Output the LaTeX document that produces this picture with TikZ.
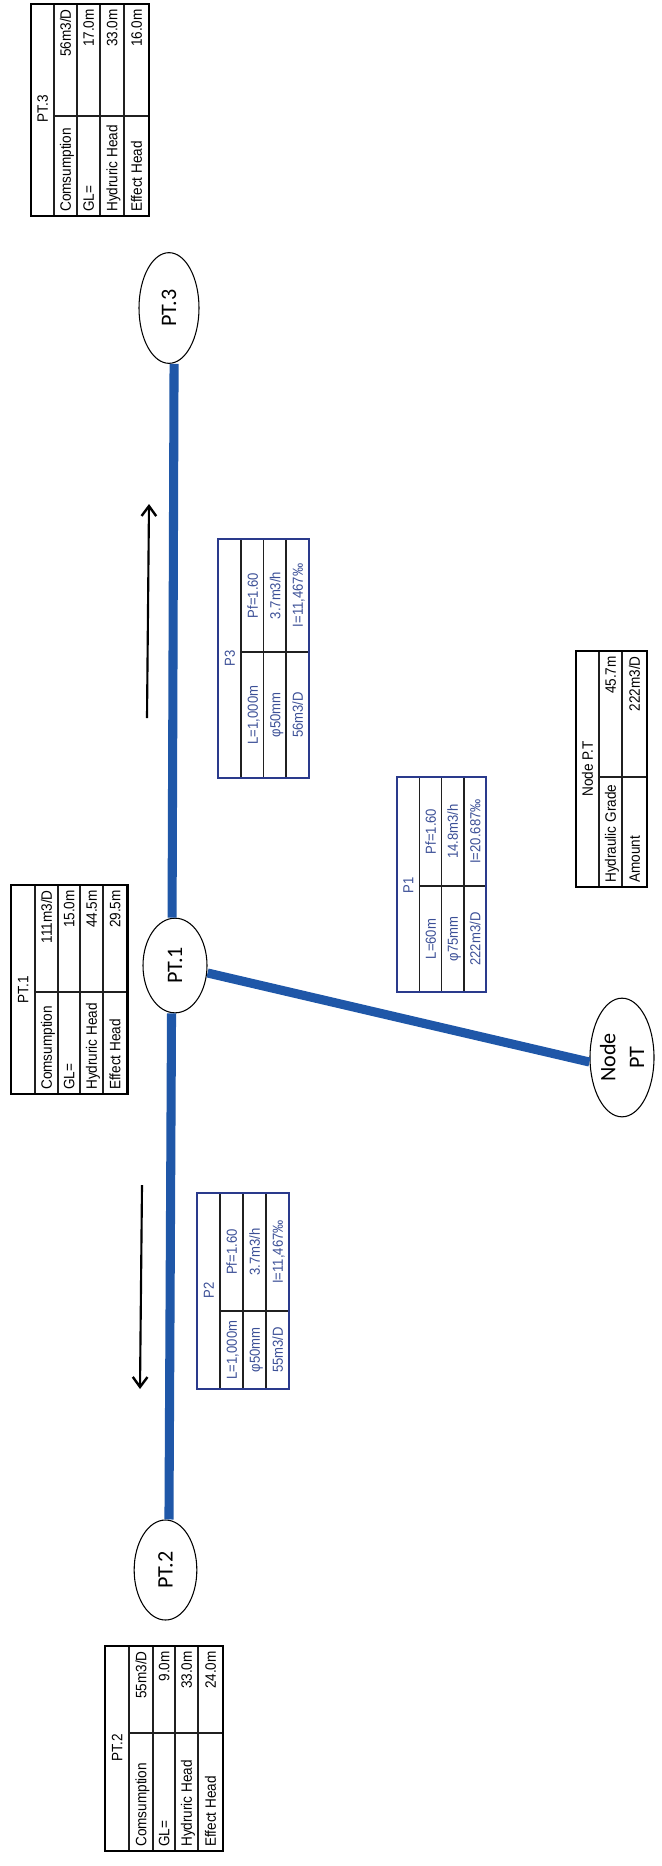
\documentclass[tikz,border=0pt]{standalone}
\usepackage{fontspec}
\usepackage{graphicx}
\usetikzlibrary{shapes.geometric,arrows.meta}
\newfontfamily\tabfont[FakeStretch=0.9]{Liberation Sans}
\newfontfamily\elfont{Carlito}
\definecolor{pipeblue}{HTML}{1F57A8}
\definecolor{tabnavy}{HTML}{2A3A8C}
\definecolor{bluetext}{HTML}{3B4F96}
\definecolor{gridgrey}{HTML}{202020}
\tikzset{
  pipe/.style={draw=pipeblue,line width=6.8pt},
  flow/.style={draw=black,line width=1.6pt,-{Straight Barb[length=7.5pt,width=11pt,line width=1.8pt]}},
  junction/.style={ellipse,draw=black,fill=white,line width=0.8pt,inner sep=0pt,rotate=90,font=\elfont\fontsize{16.6}{21.5}\selectfont,align=center},
  blackframe/.style={draw=black,line width=2.2pt},
  blueframe/.style={draw=tabnavy,line width=1pt},
  gridline/.style={draw=gridgrey,line width=0.8pt},
  cellb/.style={rotate=90,inner sep=0pt,text=black,text height=8pt,text depth=0pt,font=\tabfont\fontsize{11.3}{13}\selectfont},
  cellt/.style={rotate=90,inner sep=0pt,text=bluetext,text height=8pt,text depth=0pt,font=\tabfont\fontsize{10.9}{13}\selectfont},
}
% style, xleft, xright, inner columns, ytop, ybottom, ysplit, first column right edge
\newcommand{\tablegrid}[8]{%
  \foreach \colx in {#4} {\draw[gridline] (\colx,#5) -- (\colx,#6);}
  \draw[gridline] (#8,#7) -- (#3,#7);
  \draw[#1] (#2,#5) rectangle (#3,#6);
}
% name, x, ybottom, ytop, left text, right text
\newcommand{\blackrow}[6]{%
  \node[cellb,anchor=west] (#1l) at (#2,#3-4) {#5};
  \node[cellb,anchor=east] (#1r) at (#2,#4+5) {#6};
}
% name, x, ycentre-left, ycentre-right, left, right
\newcommand{\bluerow}[6]{%
  \node[cellt] (#1l) at (#2,#3) {#5};
  \node[cellt] (#1r) at (#2,#4) {#6};
}
\begin{document}
\begin{tikzpicture}[x=0.75pt,y=-0.75pt]
\useasboundingbox (0,0) rectangle (661,1866);

% junctions
\node[junction,minimum width=83pt,minimum height=45pt] (pt3) at (169,308) {PT.3};
\node[junction,minimum width=71pt,minimum height=48pt] (pt1) at (175,965.5) {PT.1};
\node[junction,minimum width=75pt,minimum height=47pt] (pt2) at (165.5,1570) {PT.2};
\node[junction,minimum width=89pt,minimum height=48pt] (nodept) at (622,1057.5) {Node\\PT};

% pipes
\draw[pipe] ([xshift=3.8pt]pt3.west) -- ([xshift=-2.2pt]pt1.east);
\draw[pipe] ([xshift=-2.6pt]pt1.west) -- ([xshift=2.6pt]pt2.east);
\draw[pipe] ([yshift=-5.6pt]pt1.south) -- ([yshift=-3.4pt]nodept.north);

% flow arrows
\coordinate (a1s) at (147,718);
\coordinate (a1e) at (149,504);
\coordinate (a2s) at (142,1185);
\coordinate (a2e) at (140,1389);
\draw[flow] (a1s) -- (a1e);
\draw[flow] (a2s) -- (a2e);

% table PT.3
\tablegrid{blackframe}{31}{149}{54,77,100,124}{4}{216}{116}{54}
\node[cellb] (t3t) at (42.5,109) {PT.3};
\blackrow{t3a}{65.5}{216}{4}{Comsumption}{56m3/D}
\blackrow{t3b}{88.5}{216}{4}{GL=}{17.0m}
\blackrow{t3c}{112}{216}{4}{Hydruric Head}{33.0m}
\blackrow{t3d}{136.5}{216}{4}{Effect Head}{16.0m}

% table PT.1
\tablegrid{blackframe}{11}{127.5}{35,58,80,103}{885}{1094}{992}{35}
\node[cellb] (t1t) at (23,990) {PT.1};
\blackrow{t1a}{46.5}{1094}{885}{Comsumption}{111m3/D}
\blackrow{t1b}{69}{1094}{885}{GL=}{15.0m}
\blackrow{t1c}{91.5}{1094}{885}{Hydruric Head}{44.5m}
\blackrow{t1d}{115}{1094}{885}{Effect Head}{29.5m}

% table PT.2
\tablegrid{blackframe}{105}{223}{129,153,175,198}{1646}{1851}{1733}{129}
\node[cellb] (t2t) at (117,1748) {PT.2};
\blackrow{t2a}{141}{1851}{1646}{Comsumption}{55m3/D}
\blackrow{t2b}{164}{1851}{1646}{GL=}{9.0m}
\blackrow{t2c}{186.5}{1851}{1646}{Hydruric Head}{33.0m}
\blackrow{t2d}{210.5}{1851}{1646}{Effect Head}{24.0m}

% table Node P.T
\tablegrid{blackframe}{576}{647}{599,622}{651}{887}{777}{599}
\node[cellb] (tnt) at (587.5,769) {Node P.T};
\blackrow{tna}{610.5}{887}{651}{Hydraulic Grade}{45.7m}
\blackrow{tnb}{634.5}{887}{651}{Amount}{222m3/D}

% table P3
\tablegrid{blueframe}{218}{309}{241,263.5,286}{539}{778}{652}{241}
\node[cellt] (p3t) at (229.5,658) {P3};
\bluerow{p3a}{252.5}{715}{595.5}{L=1,000m}{Pf=1.60}
\bluerow{p3b}{275}{715}{595.5}{φ50mm}{3.7m3/h}
\bluerow{p3c}{297.5}{715}{595.5}{56m3/D}{I=11,467‰}

% table P2
\tablegrid{blueframe}{197}{289}{220,243,266}{1193}{1389}{1311}{220}
\node[cellt] (p2t) at (208.5,1290) {P2};
\bluerow{p2a}{231.5}{1350}{1252}{L=1,000m}{Pf=1.60}
\bluerow{p2b}{254.5}{1350}{1252}{φ50mm}{3.7m3/h}
\bluerow{p2c}{277.5}{1350}{1252}{55m3/D}{I=11,467‰}

% table P1
\tablegrid{blueframe}{397}{486}{419.5,441.5,464}{777}{992}{886}{419.5}
\node[cellt] (p1t) at (408,885) {P1};
\bluerow{p1a}{430.5}{939}{831.5}{L=60m}{Pf=1.60}
\bluerow{p1b}{452.5}{939}{831.5}{φ75mm}{14.8m3/h}
\bluerow{p1c}{475}{939}{831.5}{222m3/D}{I=20.687‰}
\end{tikzpicture}
\end{document}
